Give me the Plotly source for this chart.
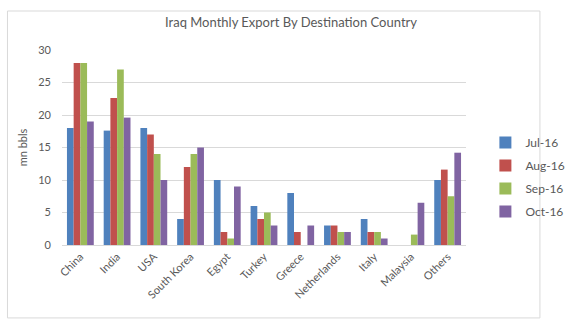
import plotly.graph_objects as go

categories = ["China", "India", "USA", "South Korea", "Egypt", "Turkey", "Greece",
              "Netherlands", "Italy", "Malaysia", "Others"]
jul16 = [18, 17.6, 18, 4, 10, 6, 8, 3, 4, 0, 10]
aug16 = [28, 22.6, 17, 12, 2, 4, 2, 3, 2, 0, 11.6]
sep16 = [28, 27, 14, 14, 1, 5, 0, 2, 2, 1.6, 7.5]
oct16 = [19, 19.6, 10, 15, 9, 3, 3, 2, 1, 6.5, 14.2]
series_names = ["Jul-16", "Aug-16", "Sep-16", "Oct-16"]
colors = ["#4F81BD", "#C0504D", "#9BBB59", "#8064A2"]

fig = go.Figure()
for name, vals, c in zip(series_names, [jul16, aug16, sep16, oct16], colors):
    fig.add_trace(go.Bar(x=categories, y=vals, name=name, marker_color=c,
                         marker_line_width=0, legendgroup=name))

font_family = "Lato, Liberation Sans, Arial, sans-serif"
grey = "#595959"
fig.update_layout(
    width=582, height=327,
    margin=dict(l=62, r=84, t=50, b=82),
    paper_bgcolor="white", plot_bgcolor="white",
    barmode="group", bargap=0.27, bargroupgap=0,
    font=dict(family=font_family, size=11, color=grey),
    title=dict(text="Iraq Monthly Export By Destination Country",
               x=0.5, xref="container", xanchor="center",
               y=1 - 22/327, yref="container", yanchor="middle",
               font=dict(size=13, color=grey)),
    xaxis=dict(tickangle=-45, showgrid=False, showline=True, linecolor="#d9d9d9",
               ticks="", tickfont=dict(size=11, color=grey)),
    yaxis=dict(range=[0, 30], dtick=5, showgrid=True, gridcolor="#d9d9d9",
               zeroline=False, showline=False, ticks="", ticklen=0,
               ticklabelstandoff=10,
               tickfont=dict(size=11, color=grey),
               title=dict(text="mn bbls", font=dict(size=11, color=grey), standoff=8)),
    legend=dict(x=1.048, y=0.60, xanchor="left", yanchor="top",
                font=dict(size=12, color=grey), itemwidth=30, tracegroupgap=4,
                bgcolor="rgba(0,0,0,0)"),
    shapes=[dict(type="rect", xref="paper", yref="paper",
                 x0=-0.135, x1=1.183, y0=-0.374, y1=1.2,
                 line=dict(color="#d9d9d9", width=1), fillcolor="rgba(0,0,0,0)",
                 layer="below")],
)

fig.write_html("out.html")
